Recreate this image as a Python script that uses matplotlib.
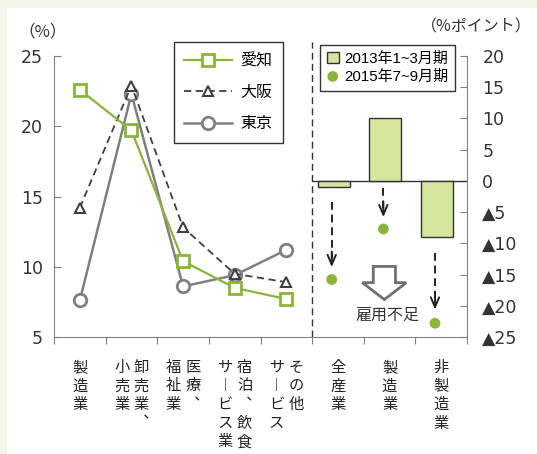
import matplotlib
matplotlib.use("Agg")
import matplotlib.pyplot as plt
from matplotlib.patches import Rectangle, FancyArrow

plt.rcParams['font.family'] = ['Liberation Sans', 'Noto Sans CJK JP', 'DejaVu Sans']

# left panel: share of job openings by sector (%)
sectors = ['製造業', '卸売業、小売業', '医療、福祉業', '宿泊、飲食サービス業', 'その他サービス']
aichi = [22.6, 19.7, 10.4, 8.5, 7.7]
osaka = [14.2, 22.9, 12.8, 9.5, 8.9]
tokyo = [7.6, 22.3, 8.6, 9.4, 11.2]

# right panel: employment DI (% points)
groups = ['全産業', '製造業', '非製造業']
di_2013 = [-1.0, 10.0, -9.0]
di_2015 = [-15.8, -7.7, -22.8]

# vertical label columns, read right to left
sector_cols = [['製造業'], ['卸売業︑', '小売業'], ['医療︑', '福祉業'],
               ['宿泊︑飲食', 'サ︱ビス業'], ['その他', 'サ︱ビス']]
group_cols = [['全産業'], ['製造業'], ['非製造業']]

green = '#8ab43a'
gray = '#808080'
dark = '#404040'
barfill = '#d5e69c'
tickfont = ['DejaVu Sans']

W, H = 537, 454
fig = plt.figure(figsize=(W / 100, H / 100), dpi=100)
fig.patch.set_facecolor('#f3f7e7')
fig.patches.append(Rectangle((7 / W, 0), 1, 1 - 8 / H, transform=fig.transFigure,
                             facecolor='white', edgecolor='none', zorder=-5))

ax = fig.add_axes([54 / W, (H - 337) / H, 413 / W, 281 / H])
ax.set_facecolor('none')
ax2 = ax.twinx()
ax2.set_facecolor('none')

x_left = [i + 0.5 for i in range(len(sectors))]
x_right = [len(sectors) + i + 0.5 for i in range(len(groups))]

l1, = ax.plot(x_left, aichi, color=green, lw=1.6, marker='s', ms=8,
              mfc='white', mec=green, mew=2, label='愛知', zorder=5)
l2, = ax.plot(x_left, osaka, color=dark, lw=1.3, ls=(0, (4, 2.5)), marker='^', ms=7,
              mfc='white', mec=dark, mew=1.5, label='大阪', zorder=4)
l3, = ax.plot(x_left, tokyo, color=gray, lw=1.8, marker='o', ms=9,
              mfc='white', mec=gray, mew=2, label='東京', zorder=3)

ax.set_xlim(0, 8)
ax.set_ylim(5, 25)
ax.set_yticks([5, 10, 15, 20, 25])
ax.set_xticks(range(0, 9))
ax.set_xticklabels([])
ax.tick_params(axis='x', direction='out', length=5, color=gray)
ax.tick_params(axis='y', direction='in', length=5, color=gray, labelsize=12.5,
               pad=8, labelcolor='#333')
for lab in ax.get_yticklabels():
    lab.set_family(tickfont)
for s in ['top', 'right']:
    ax.spines[s].set_visible(False)
for s in ['left', 'bottom']:
    ax.spines[s].set_color(gray)

# right panel
xb = [x - 0.08 for x in x_right]
xd = [x - 0.12 for x in x_right]
bars = ax2.bar(xb, di_2013, width=0.62, color=barfill, edgecolor='#333', lw=1,
               label='2013年1~3月期', zorder=3)
dots = ax2.scatter(xd, di_2015, s=60, color=green, edgecolor='none',
                   label='2015年7~9月期', zorder=4)
ax2.hlines(0, 5, 8, color='#333', lw=1, zorder=2)
ax2.set_ylim(-25, 20)
ax2.set_yticks([-25, -20, -15, -10, -5, 0, 5, 10, 15, 20])
ax2.set_yticklabels(['▲25', '▲20', '▲15', '▲10', '▲5', '0', '5', '10', '15', '20'],
                    family=tickfont)
ax2.tick_params(axis='y', direction='in', length=5, color=gray, labelsize=12.5,
                pad=11, labelcolor='#333')
for s in ['top', 'left', 'bottom']:
    ax2.spines[s].set_visible(False)
ax2.spines['right'].set_color(gray)

# divider
ax.axvline(5, ymin=0, ymax=(337 - 42) / 281, clip_on=False, color='#333',
           lw=1, ls=(0, (5, 3)))

# dashed arrows from bar to dot
arrow_start = [-3.4, -1.1, -11.6]
arrow_end = [-13.8, -5.8, -20.6]
for x, y0, y1 in zip(xd, arrow_start, arrow_end):
    ax2.plot([x, x], [y0, y1 + 1.5], color='#222', lw=1.4, ls=(0, (4, 2.5)), zorder=3)
    ax2.annotate('', xy=(x, y1), xytext=(x, y1 + 2.5),
                 arrowprops=dict(arrowstyle='->,head_length=0.7,head_width=0.3',
                                 color='#222', lw=1.4, shrinkA=0, shrinkB=0))

# hollow arrow + label
ax2.add_patch(FancyArrow(6.40, -13.7, 0, -5.3, width=0.43, head_width=0.85,
                         head_length=2.7, length_includes_head=True,
                         facecolor='white', edgecolor='#707070', lw=2, zorder=3))
ax2.text(6.45, -21.5, '雇用不足', ha='center', va='center', fontsize=11.5,
         color='#333', family=['Noto Sans CJK JP'])

# vertical category labels
def vertical_label(xc, cols):
    n = len(cols)
    for k, col in enumerate(cols):
        # first column sits on the right
        off = (n - 1) / 2 - k
        ax.text(xc + off * 0.38, -0.078, '\n'.join(col), transform=ax.get_xaxis_transform(),
                ha='center', va='top', fontsize=11, linespacing=1.12, color='#222',
                family=['Noto Sans CJK JP'])

for xc, cols in zip(x_left, sector_cols):
    vertical_label(xc, cols)
for xc, cols in zip(x_right, group_cols):
    vertical_label(xc, cols)

# unit labels
fig.text(43 / W, 1 - 32 / H, '（%）', ha='center', va='center', fontsize=12,
         color='#333', family=['Noto Sans CJK JP'])
fig.text(476 / W, 1 - 27 / H, '（%ポイント）', ha='center', va='center', fontsize=11.5,
         color='#333', family=['Noto Sans CJK JP'])

# legends
leg1 = fig.legend([l1, l2, l3], ['愛知', '大阪', '東京'], loc='upper left',
                  bbox_to_anchor=(174 / W, 1 - 42 / H), borderaxespad=0,
                  fancybox=False, edgecolor='#333', framealpha=1,
                  prop={'family': ['Noto Sans CJK JP'], 'size': 11.5},
                  handlelength=3.0, labelspacing=0.9, borderpad=0.65, handletextpad=0.5)
leg1.get_frame().set_linewidth(1)
leg2 = fig.legend([bars, dots], ['2013年1~3月期', '2015年7~9月期'], loc='upper left',
                  bbox_to_anchor=(320 / W, 1 - 45 / H), borderaxespad=0,
                  fancybox=False, edgecolor='#333', framealpha=1,
                  prop={'family': ['Liberation Sans', 'Noto Sans CJK JP'], 'size': 10.8},
                  handlelength=0.8, handleheight=0.8, labelspacing=0.25, borderpad=0.45,
                  handletextpad=0.35)
leg2.get_frame().set_linewidth(1)

fig.savefig('out.png', dpi=100)
